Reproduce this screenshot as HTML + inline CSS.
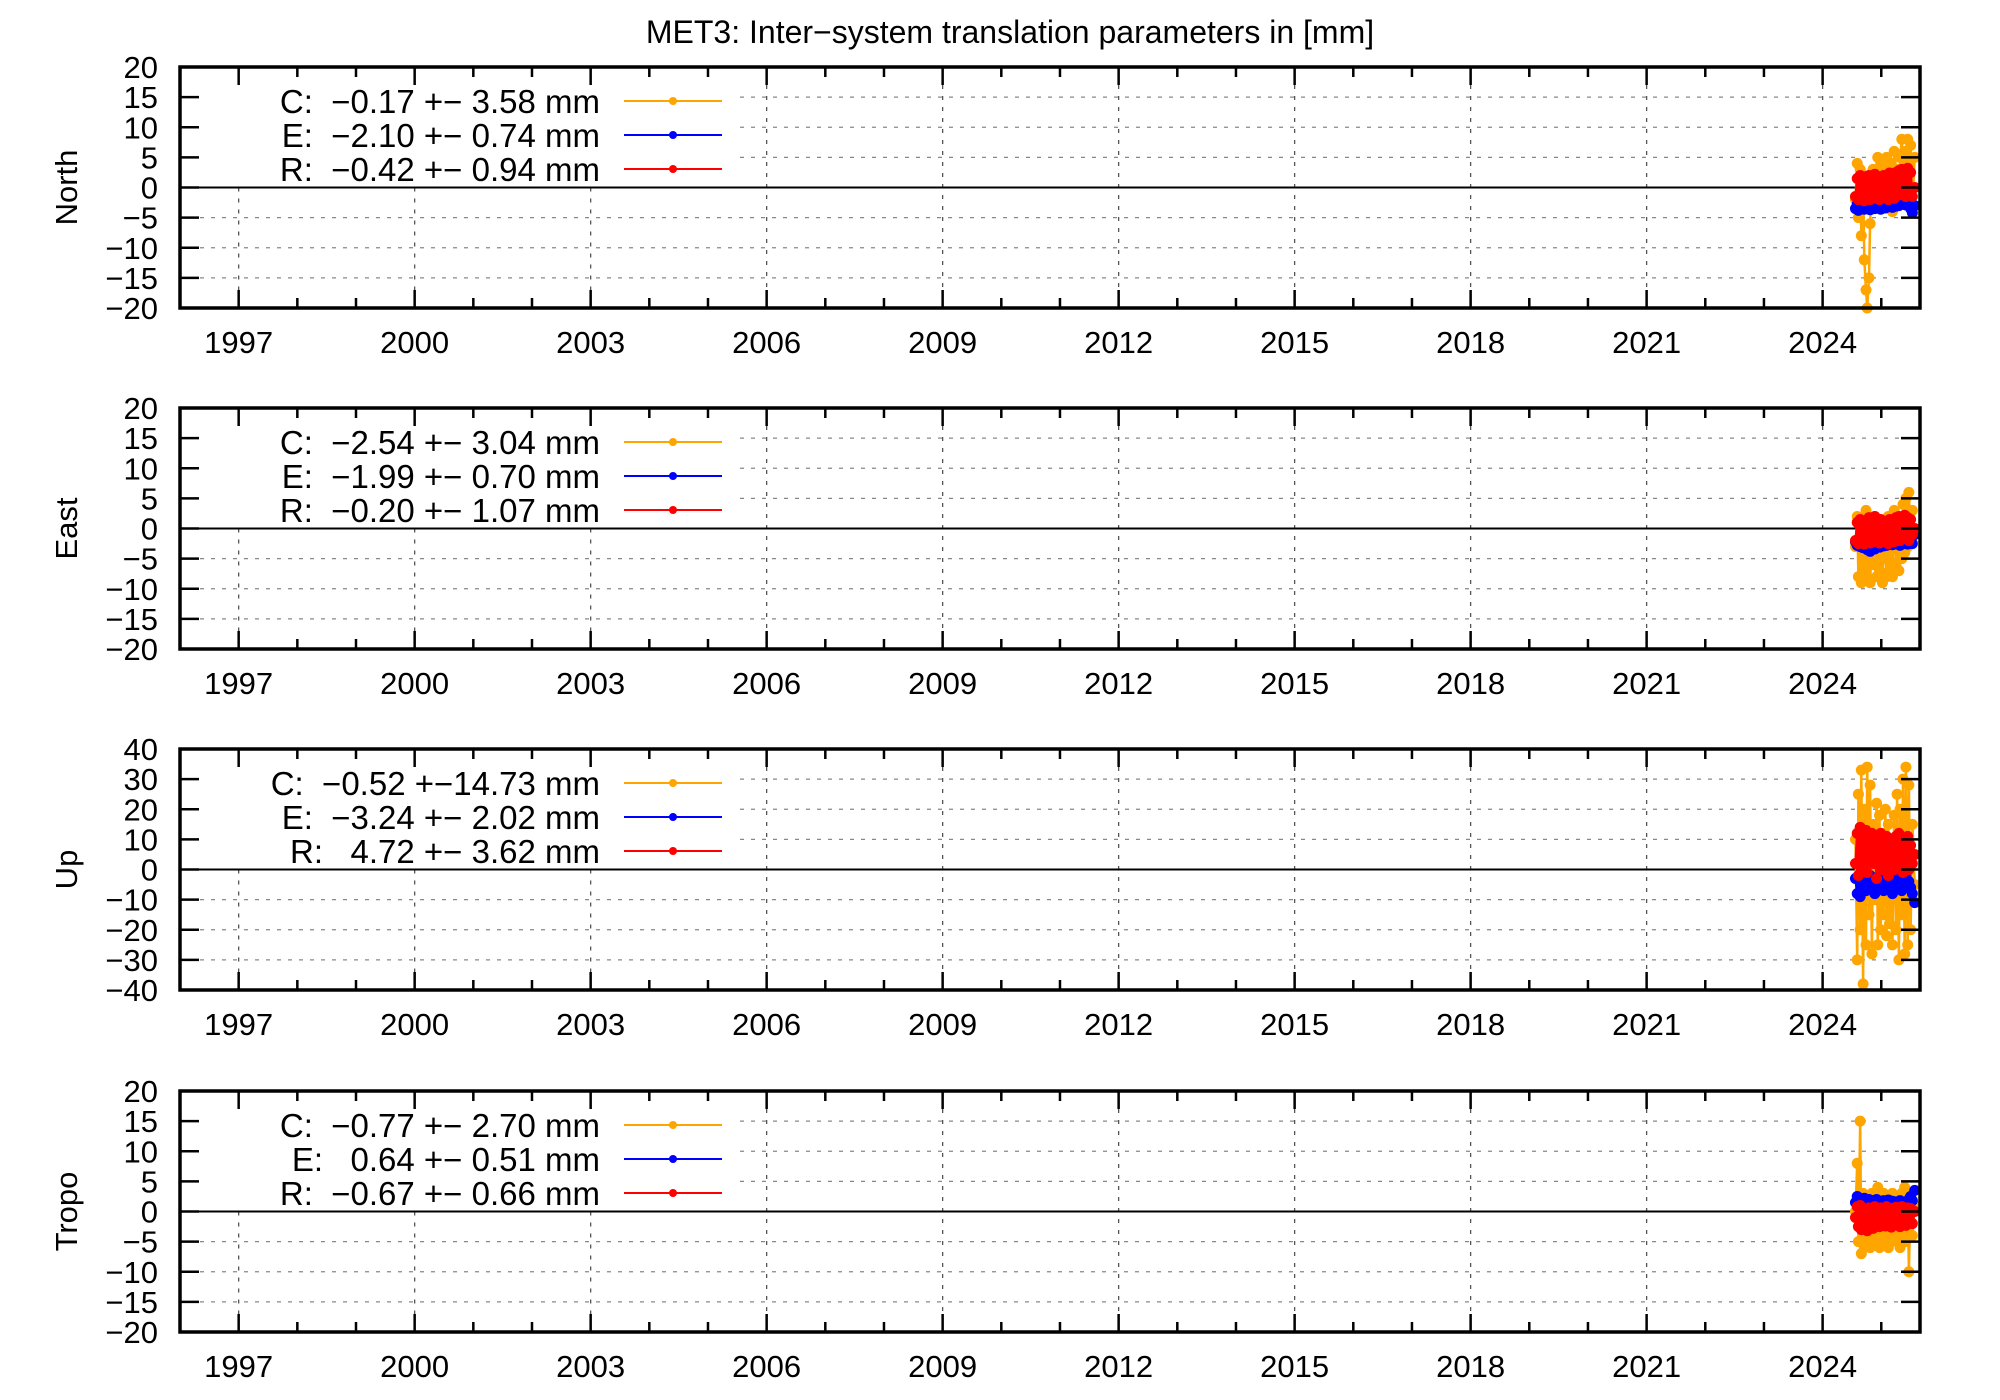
<!DOCTYPE html>
<html><head><meta charset="utf-8"><style>
html,body{margin:0;padding:0;background:#fff;}
svg{display:block;font-family:"Liberation Sans",sans-serif;}
.pre{white-space:pre;}
</style></head><body>
<svg id="chart" width="2000" height="1400" viewBox="0 0 2000 1400" xmlns="http://www.w3.org/2000/svg">
<rect x="0" y="0" width="2000" height="1400" fill="#fff"/>
<text x="1010" y="43" font-size="32" text-anchor="middle">MET3: Inter−system translation parameters in [mm]</text>
</svg>
<script>
const dates = [2024.56,2024.59,2024.61,2024.64,2024.66,2024.69,2024.71,2024.74,2024.76,2024.79,2024.81,2024.84,2024.86,2024.89,2024.92,2024.94,2024.97,2024.99,2025.02,2025.04,2025.07,2025.09,2025.12,2025.14,2025.17,2025.19,2025.22,2025.25,2025.27,2025.30,2025.32,2025.35,2025.37,2025.40,2025.42,2025.45,2025.47,2025.50,2025.53,2025.57];
const xTickYears = [1997,2000,2003,2006,2009,2012,2015,2018,2021,2024];
const panelNames = ["North","East","Up","Tropo"];
const panelRanges = [[-20,20],[-20,20],[-40,40],[-20,20]];
const panelSteps = [5,5,10,5];
const seriesNames = ["C","E","R"];
const legendNorth = ["C:  −0.17 +− 3.58 mm","E:  −2.10 +− 0.74 mm","R:  −0.42 +− 0.94 mm"];
const legendEast = ["C:  −2.54 +− 3.04 mm","E:  −1.99 +− 0.70 mm","R:  −0.20 +− 1.07 mm"];
const legendUp = ["C:  −0.52 +−14.73 mm","E:  −3.24 +− 2.02 mm","R:   4.72 +− 3.62 mm"];
const legendTropo = ["C:  −0.77 +− 2.70 mm","E:   0.64 +− 0.51 mm","R:  −0.67 +− 0.66 mm"];
const northC = [-2,4,-5,3,-8,2,-12,-17,-20,-15,-6,1,3,-3,2,5,-1,4,-2,3,0,5,-3,2,4,-4,6,1,3,-2,5,8,2,6,-1,8,4,7,-3,5];
const northE = [-3.5,-2.8,-3.8,-3,-3.4,-2.6,-3.6,-3.1,-3.3,-2.9,-3.7,-3.2,-2.7,-3.5,-3,-3.3,-2.8,-3.6,-3.1,-2.9,-3.4,-2.7,-3.2,-3,-2.6,-3.3,-2.8,-3.1,-2.5,-3,-2.4,-2.8,-2.2,-2.6,-2.9,-2.3,-2.7,-3.5,-4.2,-3];
const northR = [-1.5,1.5,-2,2,-1.8,1.2,-2.2,1.8,-1,2,-2,1,-1.5,2.2,-1.8,1.5,-2,1.8,-1.2,2,-1.6,1.4,-2,2.4,-1.4,2,-1.8,2.5,-1,2.8,-1.2,3,-0.8,2.6,-1.5,3.2,-1,2.5,-1.5,0];
const eastC = [-3,2,-8,1,-9,-2,-7,3,-8,0,-9,-1,-6,2,-8,-3,-7,1,-9,0,-5,-8,2,-7,-1,-8,3,-6,-2,-7,2,-5,4,-4,5,-3,6,-2,3,-1];
const eastE = [-2.2,-2.8,-2.5,-3,-2.6,-3.2,-2.4,-2.9,-3.5,-3,-3.8,-3.2,-2.7,-3.4,-2.9,-2.5,-3.1,-2.6,-2.2,-2.9,-2.4,-2.8,-2.2,-2.6,-2.3,-2.7,-2.5,-2.1,-2.6,-2.3,-2.8,-2.4,-2,-2.5,-2.2,-2.6,-2.3,-1.5,-2.5,-1];
const eastR = [-2,1,-2.5,1.5,-1.8,1,-2.6,0.5,-2,1.8,-2.4,0.8,-1.5,2,-2.2,1,-2.4,1.5,-2,0.6,-1.8,1.2,-2.5,1.5,-2,1,-2.2,1.8,-1.5,2,-2,1.2,-1.6,2.2,-1.2,1.8,-2,1.5,-1,0];
const upC = [10,-30,25,-20,33,-38,20,-25,34,-15,28,-28,15,-10,22,-25,18,-20,12,-15,20,-22,15,-18,10,-25,18,-20,25,-30,20,-15,30,-28,34,-25,28,-20,15,-5];
const upE = [-3,-8,-2,-9,-4,-6,-1,-7,-3,-5,-2,-6,-4,-8,-3,-5,-2,-6,-4,-7,-3,-5,-2,-6,-4,-8,-3,-6,-2,-5,-4,-7,-3,-6,-2,-5,-4,-6,-8,-11];
const upR = [2,12,-2,14,0,10,3,13,-1,11,4,12,2,9,-3,10,1,12,0,8,3,11,-2,10,2,9,0,11,4,12,1,10,-1,9,3,11,0,8,2,5];
const tropoC = [0,8,-5,15,-7,3,-6,2,-5,1,-6,3,-4,2,-5,4,-6,1,-5,3,-4,2,-6,1,-5,3,-4,2,-5,1,-6,3,-4,4,-5,2,-10,3,-4,1];
const tropoE = [1.5,2.5,1,2,1.8,0.8,2.2,1.2,1.6,2,1.3,1.8,1,1.5,2,1.2,1.6,0.9,1.4,1.8,1.1,1.5,1.9,1,1.4,1.7,1.2,1.6,1,1.5,1.8,1.2,1.4,1,1.6,1.2,2,2.5,1.8,3.5];
const tropoR = [-1,0.8,-2.5,1,-3,0.5,-2.8,0,-3.2,0.6,-2.4,0.4,-2.8,0.8,-2.2,0.2,-2.5,0.6,-2,0.3,-2.4,0.8,-2,0.2,-2.6,0.5,-1.8,0.7,-2.2,0.3,-2.5,0.8,-2,0.4,-2.3,0.6,-1.8,0.5,-2,0];

const panelSeries = [[northC,northE,northR],[eastC,eastE,eastR],[upC,upE,upR],[tropoC,tropoE,tropoR]];
const panelLegends = [legendNorth,legendEast,legendUp,legendTropo];
const colors = ["#ffa500","#0000ff","#ff0000"];
const NS = "http://www.w3.org/2000/svg";
const svg = document.getElementById("chart");
const L = 180, R = 1920, H = 241;
const KEYR = 740;
const tops = [67, 408, 749, 1091];
const X0 = 1996.0, X1 = 2025.66;
function xs(v){ return L + (v - X0) / (X1 - X0) * (R - L); }
function mk(tag, attrs, parent){ const e = document.createElementNS(NS, tag); for (const k in attrs) e.setAttribute(k, attrs[k]); (parent||svg).appendChild(e); return e; }

panelNames.forEach((name, p) => {
  const top = tops[p], bot = top + H;
  const [y0, y1] = panelRanges[p];
  const ys = v => bot - (v - y0) / (y1 - y0) * H;
  const g = mk("g", {});
  
  
  for (let v = y0 + panelSteps[p]; v < y1; v += panelSteps[p]) {
    if (v === 0) continue;
    const x1 = v > 0 ? KEYR : L + 20;
    const gl = mk("line", {x1: x1, x2: R - 20, y1: ys(v), y2: ys(v), stroke: "#888", "stroke-width": 1.3, "stroke-dasharray": "4,7"}, g);
    
    
  }
  xTickYears.forEach(yr => {
    const yt = xs(yr) < KEYR ? ys(0) : top + 18;
    const gl = mk("line", {x1: xs(yr), x2: xs(yr), y1: yt, y2: bot - 18, stroke: "#555", "stroke-width": 1.3, "stroke-dasharray": "4,7"}, g);
    
    
  });
  const zl = mk("line", {x1: L, x2: R, y1: ys(0), y2: ys(0), stroke: "#000", "stroke-width": 2}, g);
  
  
  panelSeries[p].forEach((arr, s) => {
    const pts = arr.map((v, i) => xs(dates[i]).toFixed(1) + "," + ys(v).toFixed(1)).join(" ");
    const sg = mk("g", {}, g);
    
    
    mk("polyline", {points: pts, fill: "none", stroke: colors[s], "stroke-width": 2.5}, sg);
    arr.forEach((v, i) => {
      const c = mk("circle", {cx: xs(dates[i]), cy: ys(v), r: 5.5, fill: colors[s]}, sg);
      
      
    });
  });
  const fr = mk("rect", {x: L, y: top, width: R - L, height: H, fill: "none", stroke: "#000", "stroke-width": 3.5}, g);
  
  
  for (let v = y0; v <= y1; v += panelSteps[p]) {
    mk("line", {x1: L, x2: L + 19, y1: ys(v), y2: ys(v), stroke: "#000", "stroke-width": 2.5}, g);
    mk("line", {x1: R - 19, x2: R, y1: ys(v), y2: ys(v), stroke: "#000", "stroke-width": 2.5}, g);
    const t = mk("text", {x: 158, y: ys(v) + 11, "font-size": 31, "text-anchor": "end"}, g);
    t.textContent = v < 0 ? "−" + (-v) : String(v);
    
    
  }
  for (let yr = 1997; yr <= 2025; yr++) {
    const major = xTickYears.includes(yr);
    const len = major ? 18 : 10;
    mk("line", {x1: xs(yr), x2: xs(yr), y1: top, y2: top + len, stroke: "#000", "stroke-width": 2.5}, g);
    mk("line", {x1: xs(yr), x2: xs(yr), y1: bot - len, y2: bot, stroke: "#000", "stroke-width": 2.5}, g);
  }
  xTickYears.forEach(yr => {
    const t = mk("text", {x: xs(yr), y: bot + 45, "font-size": 31, "text-anchor": "middle"}, g);
    t.textContent = String(yr);
    
    
  });
  const yt = mk("text", {x: 0, y: 0, "font-size": 31, "text-anchor": "middle", transform: "translate(77," + (top + H / 2) + ") rotate(-90)"}, g);
  yt.textContent = name;
  
  
  panelLegends[p].forEach((txt, s) => {
    const ly = top + 34 + s * 34;
    const lg = mk("g", {}, g);
    
    
    const t = mk("text", {x: 600, y: ly + 12, "font-size": 33, "text-anchor": "end", "class": "pre"}, lg);
    t.textContent = txt;
    mk("line", {x1: 624, x2: 722, y1: ly, y2: ly, stroke: colors[s], "stroke-width": 2}, lg);
    mk("circle", {cx: 673, cy: ly, r: 4, fill: colors[s]}, lg);
  });
});
</script>
</body></html>
